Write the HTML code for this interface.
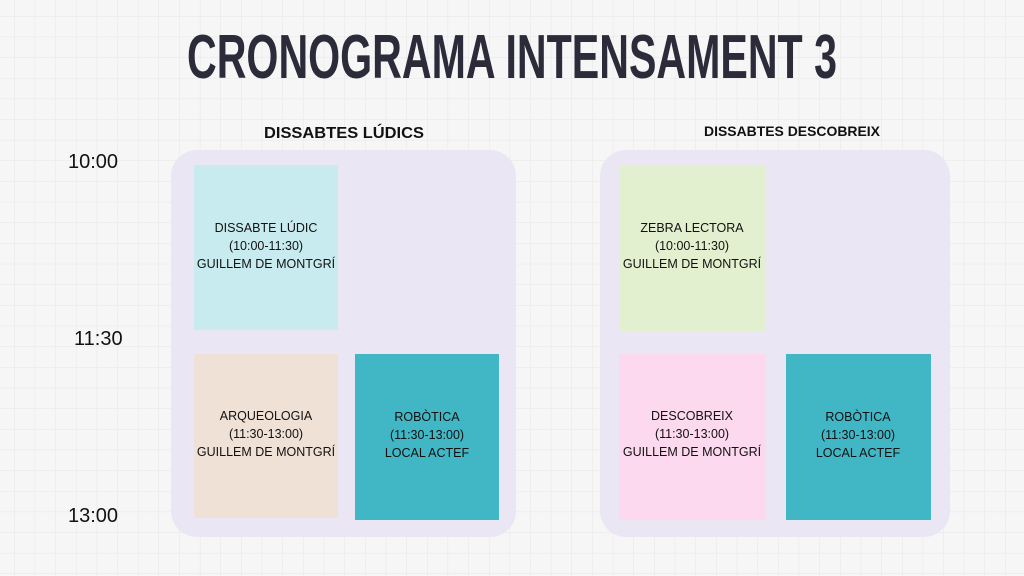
<!DOCTYPE html>
<html><head><meta charset="utf-8"><style>
html,body{margin:0;padding:0;width:1024px;height:576px;overflow:hidden;background:#f6f6f6;}
svg{display:block}
</style></head><body>
<svg width="1024" height="576" viewBox="0 0 1024 576" xmlns="http://www.w3.org/2000/svg">
<defs>
<pattern id="g" x="14" y="16" width="20.65" height="20.65" patternUnits="userSpaceOnUse">
<path d="M0 0H20.65M0 0V20.65" stroke="#e6e6e6" stroke-width="1" fill="none"/>
</pattern>
</defs>
<rect width="1024" height="576" fill="#f6f6f6"/>
<rect width="1024" height="576" fill="url(#g)"/>
<text x="512" y="78" text-anchor="middle" font-family="Liberation Sans, sans-serif" font-weight="bold" font-size="62" fill="#2b2b3a" textLength="650" lengthAdjust="spacingAndGlyphs">CRONOGRAMA INTENSAMENT 3</text>
<text x="344" y="138" text-anchor="middle" font-family="Liberation Sans, sans-serif" font-weight="bold" font-size="16" fill="#111" textLength="160" lengthAdjust="spacingAndGlyphs">DISSABTES LÚDICS</text>
<text x="792" y="136" text-anchor="middle" font-family="Liberation Sans, sans-serif" font-weight="bold" font-size="14" fill="#111" textLength="176" lengthAdjust="spacingAndGlyphs">DISSABTES DESCOBREIX</text>
<g font-family="Liberation Sans, sans-serif" font-size="20" fill="#111">
<text x="68" y="168">10:00</text>
<text x="74" y="345">11:30</text>
<text x="68" y="522">13:00</text>
</g>
<rect x="171" y="150" width="345" height="387" rx="26" fill="#ebe6f4"/>
<rect x="600" y="150" width="350" height="387" rx="26" fill="#ebe6f4"/>
<rect x="194" y="165" width="144" height="165" fill="#c8ebef"/>
<rect x="194" y="354" width="144" height="164" fill="#efe1d6"/>
<rect x="355" y="354" width="144" height="166" fill="#41b7c6"/>
<rect x="619" y="165" width="147" height="166" fill="#e2f0cf"/>
<rect x="619" y="354" width="147" height="166" fill="#fcd9ef"/>
<rect x="786" y="354" width="145" height="166" fill="#41b7c6"/>
<g font-family="Liberation Sans, sans-serif" font-size="12.5" fill="#111" text-anchor="middle">
<text x="266" y="232">DISSABTE LÚDIC</text>
<text x="266" y="250">(10:00-11:30)</text>
<text x="266" y="268">GUILLEM DE MONTGRÍ</text>
<text x="266" y="420">ARQUEOLOGIA</text>
<text x="266" y="438">(11:30-13:00)</text>
<text x="266" y="456">GUILLEM DE MONTGRÍ</text>
<text x="427" y="421">ROBÒTICA</text>
<text x="427" y="439">(11:30-13:00)</text>
<text x="427" y="457">LOCAL ACTEF</text>
<text x="692" y="232">ZEBRA LECTORA</text>
<text x="692" y="250">(10:00-11:30)</text>
<text x="692" y="268">GUILLEM DE MONTGRÍ</text>
<text x="692" y="420">DESCOBREIX</text>
<text x="692" y="438">(11:30-13:00)</text>
<text x="692" y="456">GUILLEM DE MONTGRÍ</text>
<text x="858" y="421">ROBÒTICA</text>
<text x="858" y="439">(11:30-13:00)</text>
<text x="858" y="457">LOCAL ACTEF</text>
</g>
</svg>
</body></html>
